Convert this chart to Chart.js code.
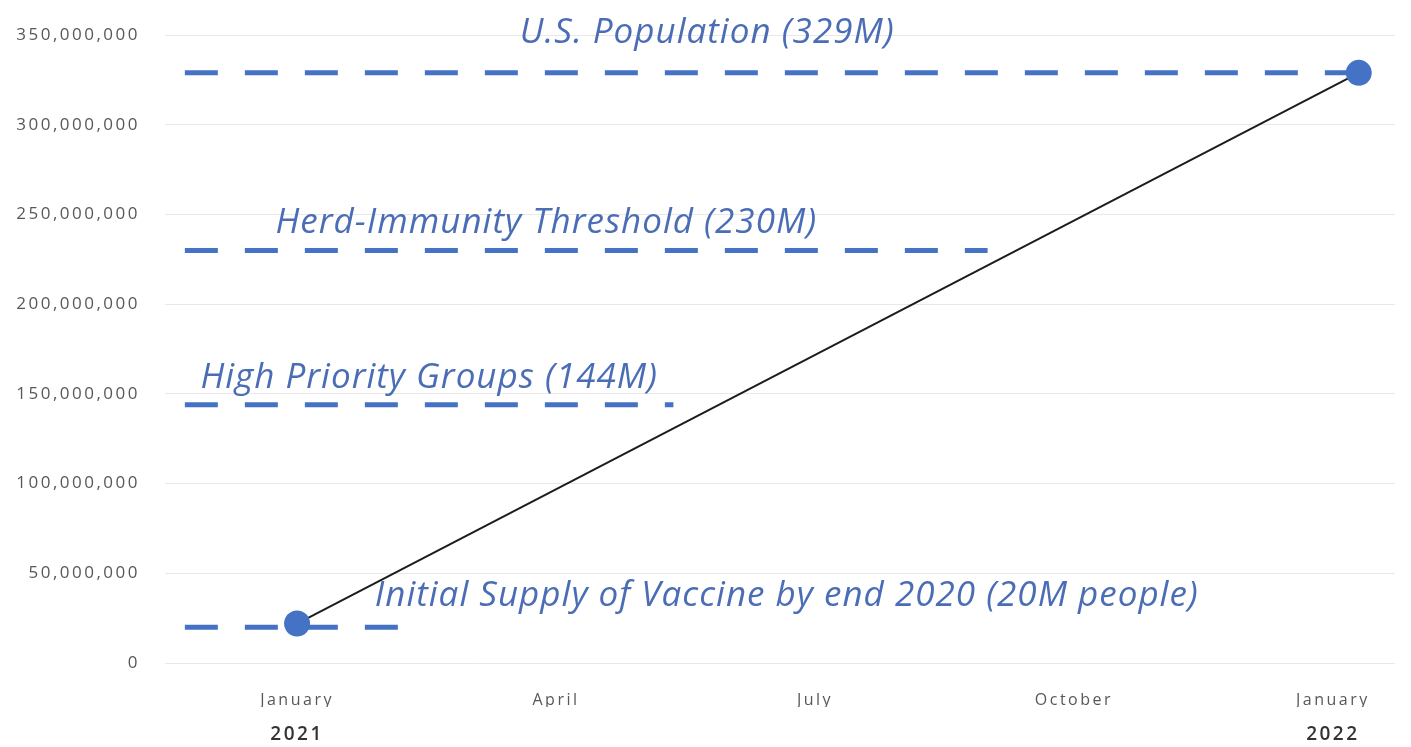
<!DOCTYPE html>
<html>
<head>
<meta charset="utf-8">
<script src="https://cdn.jsdelivr.net/npm/chart.js@4"></script>
<style>
  html, body { margin: 0; padding: 0; background: #ffffff; }
  #wrap { width: 1411px; height: 747px; }
</style>
</head>
<body>
<div id="wrap"><canvas id="c"></canvas></div>
<script>
// x axis is counted in months from January 2021 (0)
const monthTicks = [0, 3, 6, 9, 12];
const monthLabels = ['January', 'April', 'July', 'October', 'January'];
const yearTicks = [0, 12];
const yearLabels = ['2021', '2022'];

// projected vaccinations, start and end of the year
const progressMonths = [0, 12.3];
const progressPeople = [22000000, 329000000];

// reference levels (people) and the span of months each dashed line covers
const refNames = [
  'U.S. Population (329M)',
  'Herd-Immunity Threshold (230M)',
  'High Priority Groups (144M)',
  'Initial Supply of Vaccine by end 2020 (20M people)'
];
const refValues = [329000000, 230000000, 144000000, 20000000];
const refStart = [-1.3, -1.3, -1.3, -1.3];
const refEnd = [12.3, 8.0, 4.36, 1.2];

const BLUE = '#4472C4';
const TEXT_BLUE = '#4A6DB5';

// where each caption sits: left edge (months) and lift above its line (px)
const captionPlacement = [
  { left: 2.58, lift: 40 },
  { left: -0.25, lift: 27 },
  { left: -1.12, lift: 27 },
  { left: 0.90, lift: 31 }
];

// wider tracking for the axis labels
const trackingPlugin = {
  id: 'tracking',
  beforeDraw(chart) { chart.ctx.letterSpacing = '2.5px'; },
  afterDraw(chart) { chart.ctx.letterSpacing = '0px'; }
};

const captionPlugin = {
  id: 'captions',
  afterDatasetsDraw(chart) {
    const { ctx, scales } = chart;
    ctx.save();
    ctx.letterSpacing = '1px';
    ctx.font = 'italic 35px "Open Sans"';
    ctx.fillStyle = TEXT_BLUE;
    ctx.textBaseline = 'middle';
    ctx.textAlign = 'left';
    refNames.forEach((name, i) => {
      const p = captionPlacement[i];
      const x = scales.x.getPixelForValue(p.left);
      const y = scales.y.getPixelForValue(refValues[i]) - p.lift;
      ctx.fillText(name, x, y);
    });
    ctx.restore();
  }
};

const datasets = [
  {
    label: 'Vaccinated',
    data: progressMonths.map((m, i) => ({ x: m, y: progressPeople[i] })),
    borderColor: '#1c1c1c',
    borderWidth: 2,
    pointRadius: 13,
    pointBackgroundColor: BLUE,
    pointBorderColor: BLUE,
    pointBorderWidth: 0
  }
];
refNames.forEach((name, i) => {
  datasets.push({
    label: name,
    data: [
      { x: refStart[i], y: refValues[i] },
      { x: refEnd[i], y: refValues[i] }
    ],
    borderColor: BLUE,
    borderWidth: 5,
    borderDash: [33, 27],
    borderCapStyle: 'butt',
    pointRadius: 0
  });
});

new Chart(document.getElementById('c'), {
  type: 'line',
  data: { datasets },
  plugins: [trackingPlugin, captionPlugin],
  options: {
    responsive: true,
    maintainAspectRatio: false,
    animation: false,
    layout: { padding: { top: 24, right: 16, bottom: 0, left: 0 } },
    plugins: { legend: { display: false }, tooltip: { enabled: false } },
    scales: {
      x: {
        type: 'linear',
        min: -1.53,
        max: 12.72,
        weight: 0,
        grid: { display: false },
        border: { display: false },
        afterBuildTicks(scale) { scale.ticks = monthTicks.map(v => ({ value: v })); },
        afterFit(scale) { scale.height = 44; },
        ticks: {
          padding: 20,
          maxRotation: 0,
          autoSkip: false,
          color: '#585858',
          font: { family: 'Open Sans', size: 16 },
          callback(v) { return monthLabels[monthTicks.indexOf(v)]; }
        }
      },
      x2: {
        type: 'linear',
        axis: 'x',
        position: 'bottom',
        min: -1.53,
        max: 12.72,
        weight: 1,
        grid: { display: false },
        border: { display: false },
        afterBuildTicks(scale) { scale.ticks = yearTicks.map(v => ({ value: v })); },
        afterFit(scale) { scale.height = 40; },
        ticks: {
          padding: 8,
          maxRotation: 0,
          autoSkip: false,
          color: '#333333',
          font: { family: 'Open Sans', size: 19, weight: '600' },
          callback(v) { return yearLabels[yearTicks.indexOf(v)]; }
        }
      },
      y: {
        min: 0,
        max: 350000000,
        grid: { color: '#e8e8e8', lineWidth: 1, drawTicks: false },
        border: { display: false },
        afterFit(scale) { scale.width = 165; },
        ticks: {
          stepSize: 50000000,
          padding: 25,
          color: '#585858',
          font: { family: 'Open Sans', size: 17 },
          callback(v) { return v.toLocaleString('en-US'); }
        }
      }
    }
  }
});
</script>
</body>
</html>
